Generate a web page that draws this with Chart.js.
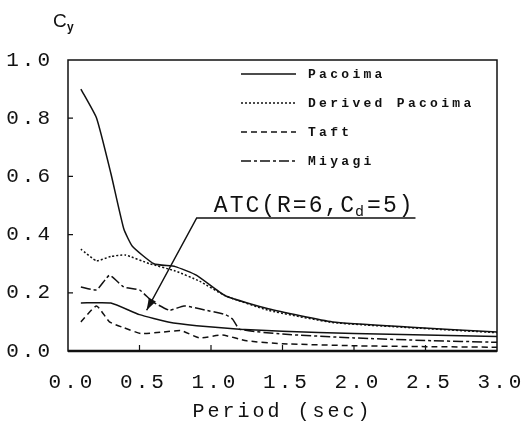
<!DOCTYPE html>
<html>
<head>
<meta charset="utf-8">
<script src="https://cdn.jsdelivr.net/npm/chart.js@4/dist/chart.umd.min.js"></script>
<style>
    html, body { margin: 0; padding: 0; background: #fff; }
    #wrap { width: 524px; height: 427px; position: relative; }
</style>
</head>
<body>
<div id="wrap"><canvas id="cyChart"></canvas></div>
<script>
// Period (sec) / Cy values
const pacoimaT = [0.09, 0.2, 0.3, 0.39, 0.45, 0.6, 0.75, 0.9, 1.1, 1.4, 1.85, 2.4, 3.0];
const pacoimaC = [0.90, 0.80, 0.61, 0.42, 0.36, 0.30, 0.29, 0.26, 0.19, 0.145, 0.10, 0.082, 0.065];

const derivedT = [0.09, 0.2, 0.3, 0.4, 0.57, 0.75, 0.92, 1.1, 1.4, 1.85, 2.4, 3.0];
const derivedC = [0.35, 0.31, 0.325, 0.33, 0.30, 0.275, 0.24, 0.19, 0.14, 0.098, 0.08, 0.063];

const taftT = [0.09, 0.2, 0.29, 0.39, 0.51, 0.66, 0.79, 0.92, 1.08, 1.25, 1.5, 2.0, 2.5, 3.0];
const taftC = [0.10, 0.155, 0.10, 0.08, 0.06, 0.065, 0.07, 0.045, 0.055, 0.035, 0.025, 0.018, 0.015, 0.013];

const miyagiT = [0.09, 0.2, 0.29, 0.39, 0.5, 0.59, 0.71, 0.81, 0.92, 1.1, 1.15, 1.2, 1.5, 2.0, 2.5, 3.0];
const miyagiC = [0.22, 0.21, 0.26, 0.22, 0.21, 0.17, 0.14, 0.155, 0.145, 0.125, 0.11, 0.075, 0.058, 0.045, 0.036, 0.03];

const atcT = [0.09, 0.3, 0.5, 0.7, 0.9, 1.2, 1.5, 2.0, 2.5, 3.0];
const atcC = [0.165, 0.165, 0.125, 0.10, 0.087, 0.075, 0.068, 0.06, 0.055, 0.05];

const xTicks = [0.0, 0.5, 1.0, 1.5, 2.0, 2.5, 3.0];
const yTicks = [0.0, 0.2, 0.4, 0.6, 0.8, 1.0];

// annotation: leader line (data units) and arrow tip on the ATC curve
const atcLabelAt = [1.02, 0.478];
const atcLeader = [[2.43, 0.457], [0.90, 0.457], [0.55, 0.14]];

const INK = '#111';
const MONO = '"Liberation Mono", "DejaVu Sans Mono", monospace';

const toPoints = (xs, ys) => xs.map((x, i) => ({ x: x, y: ys[i] }));

function series(label, xs, ys, dash, inLegend) {
    return {
        label: label,
        data: toPoints(xs, ys),
        borderColor: INK,
        borderWidth: 1.5,
        borderDash: dash,
        pointRadius: 0,
        tension: 0.15,
        fill: false,
        inLegend: inLegend
    };
}

const datasets = [
    series('Pacoima', pacoimaT, pacoimaC, [], true),
    series('Derived Pacoima', derivedT, derivedC, [2, 2], true),
    series('Taft', taftT, taftC, [6, 4], true),
    series('Miyagi', miyagiT, miyagiC, [10, 3, 3, 3], true),
    series('ATC', atcT, atcC, [], false)
];

// spaced-out typewriter look for the axis text (draw only, layout measures plain)
const spacingPlugin = {
    id: 'spacing',
    beforeDraw(chart) {
        chart.ctx.letterSpacing = '3px';
    },
    afterDraw(chart) {
        chart.ctx.letterSpacing = '0px';
    }
};

const decorPlugin = {
    id: 'decor',
    afterDraw(chart) {
        const ctx = chart.ctx;
        const area = chart.chartArea;
        const xs = chart.scales.x;
        const ys = chart.scales.y;

        ctx.save();
        ctx.letterSpacing = '0px';
        ctx.strokeStyle = INK;
        ctx.fillStyle = INK;

        // frame
        ctx.lineWidth = 1.5;
        ctx.strokeRect(area.left, area.top, area.right - area.left, area.bottom - area.top);
        ctx.lineWidth = 2.5;
        ctx.beginPath();
        ctx.moveTo(area.left, area.bottom);
        ctx.lineTo(area.right, area.bottom);
        ctx.stroke();

        // inward tick marks
        ctx.lineWidth = 1.2;
        ctx.beginPath();
        xTicks.slice(1, -1).forEach(v => {
            const px = xs.getPixelForValue(v);
            ctx.moveTo(px, area.bottom);
            ctx.lineTo(px, area.bottom - 6);
        });
        yTicks.slice(1, -1).forEach(v => {
            const py = ys.getPixelForValue(v);
            ctx.moveTo(area.left, py);
            ctx.lineTo(area.left + 5, py);
        });
        ctx.stroke();

        // legend inside the plot
        ctx.font = 'bold 13px ' + MONO;
        ctx.textBaseline = 'middle';
        ctx.textAlign = 'left';
        let rowY = 74;
        chart.data.datasets.filter(d => d.inLegend).forEach(d => {
            ctx.lineWidth = 1.5;
            ctx.setLineDash(d.borderDash);
            ctx.beginPath();
            ctx.moveTo(241, rowY);
            ctx.lineTo(296, rowY);
            ctx.stroke();
            ctx.setLineDash([]);
            ctx.letterSpacing = '3.3px';
            ctx.fillText(d.label, 308, rowY + 1);
            ctx.letterSpacing = '0px';
            rowY += 29;
        });

        // ATC annotation with leader arrow
        const pts = atcLeader.map(p => [xs.getPixelForValue(p[0]), ys.getPixelForValue(p[1])]);
        ctx.lineWidth = 1.5;
        ctx.beginPath();
        ctx.moveTo(pts[0][0], pts[0][1]);
        pts.slice(1).forEach(p => ctx.lineTo(p[0], p[1]));
        ctx.stroke();

        const tip = pts[pts.length - 1];
        const from = pts[pts.length - 2];
        const ang = Math.atan2(tip[1] - from[1], tip[0] - from[0]);
        const len = 12, half = 4;
        ctx.beginPath();
        ctx.moveTo(tip[0], tip[1]);
        ctx.lineTo(tip[0] - len * Math.cos(ang) + half * Math.sin(ang), tip[1] - len * Math.sin(ang) - half * Math.cos(ang));
        ctx.lineTo(tip[0] - len * Math.cos(ang) - half * Math.sin(ang), tip[1] - len * Math.sin(ang) + half * Math.cos(ang));
        ctx.closePath();
        ctx.fill();

        let tx = xs.getPixelForValue(atcLabelAt[0]);
        const ty = ys.getPixelForValue(atcLabelAt[1]);
        ctx.textBaseline = 'alphabetic';
        ctx.letterSpacing = '2px';
        ctx.font = '23px ' + MONO;
        ctx.fillText('ATC(R=6,C', tx, ty);
        tx += ctx.measureText('ATC(R=6,C').width;
        ctx.font = '15px ' + MONO;
        ctx.fillText('d', tx - 1, ty + 4);
        tx += ctx.measureText('d').width;
        ctx.font = '23px ' + MONO;
        ctx.fillText('=5)', tx, ty);

        // Cy axis label
        ctx.letterSpacing = '0px';
        ctx.font = '19px "Liberation Sans", Arial, sans-serif';
        ctx.fillText('C', 53, 27);
        ctx.font = 'bold 12px "Liberation Sans", Arial, sans-serif';
        ctx.fillText('y', 67, 31);

        ctx.restore();
    }
};

const ctx = document.getElementById('cyChart').getContext('2d');
new Chart(ctx, {
    type: 'line',
    data: { datasets: datasets },
    options: {
        responsive: true,
        maintainAspectRatio: false,
        animation: false,
        layout: { padding: { top: 60, right: 27, bottom: 0, left: 0 } },
        plugins: {
            legend: { display: false },
            tooltip: { enabled: false }
        },
        scales: {
            x: {
                type: 'linear',
                min: 0,
                max: 3,
                afterBuildTicks: scale => { scale.ticks = xTicks.map(v => ({ value: v })); },
                afterFit: scale => {
                    scale.height = 76;
                    scale.paddingLeft = 0;
                    scale.paddingRight = 0;
                },
                grid: { display: false, drawTicks: false },
                border: { display: false },
                ticks: {
                    color: INK,
                    padding: 19,
                    labelOffset: 4,
                    maxRotation: 0,
                    font: { family: MONO, size: 21 },
                    callback: v => Number(v).toFixed(1)
                },
                title: {
                    display: true,
                    text: 'Period (sec)',
                    color: INK,
                    padding: { top: 0, bottom: 3 },
                    font: { family: MONO, size: 20 }
                }
            },
            y: {
                min: 0,
                max: 1,
                afterBuildTicks: scale => { scale.ticks = yTicks.map(v => ({ value: v })); },
                afterFit: scale => {
                    scale.width = 68;
                    scale.paddingTop = 0;
                    scale.paddingBottom = 0;
                },
                grid: { display: false, drawTicks: false },
                border: { display: false },
                ticks: {
                    color: INK,
                    padding: 15,
                    font: { family: MONO, size: 21 },
                    callback: v => Number(v).toFixed(1)
                }
            }
        }
    },
    plugins: [spacingPlugin, decorPlugin]
});
</script>
</body>
</html>
